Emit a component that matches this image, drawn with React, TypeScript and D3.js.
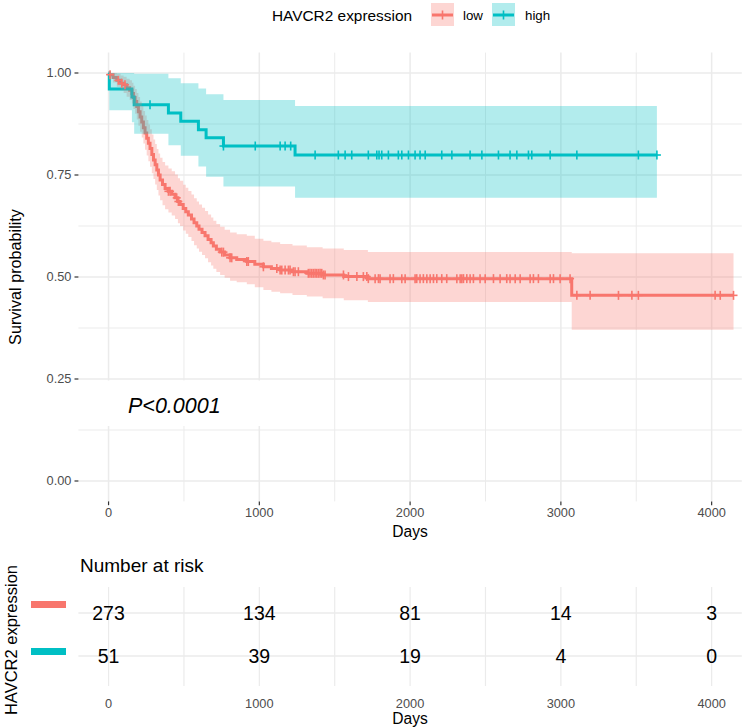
import React from "react";
import * as d3 from "d3";

// ---------- data ----------
const highTime = [0, 5, 155, 170, 397, 479, 596, 647, 762, 1237, 3637];
const highSurv = [1, 0.961, 0.941, 0.922, 0.902, 0.882, 0.861, 0.841, 0.821, 0.799, 0.799];
const highUpper = [1, 1, 1, 0.998, 0.987, 0.975, 0.962, 0.948, 0.934, 0.919, 0.919];
const highLower = [1, 0.909, 0.879, 0.851, 0.823, 0.797, 0.771, 0.746, 0.722, 0.694, 0.694];
const highCensor = [275, 762, 973, 1138, 1171, 1208, 1370, 1524, 1569, 1613, 1723, 1779, 1794, 1812, 1856, 1922, 1945, 1989, 2033, 2066, 2100, 2210, 2277, 2398, 2476, 2586, 2663, 2708, 2785, 2807, 2929, 3106, 3514, 3637];

const lowTime = [0, 5, 30, 55, 80, 100, 120, 140, 155, 165, 176, 187, 198, 209, 220, 231, 242, 253, 264, 275, 287, 298, 309, 320, 331, 342, 358, 375, 397, 419, 441, 460, 474, 495, 512, 529, 550, 567, 585, 600, 620, 640, 660, 680, 695, 715, 740, 770, 806, 850, 917, 970, 1027, 1080, 1138, 1220, 1315, 1420, 1560, 1720, 3072, 4145];
const lowSurv = [1, 0.996, 0.989, 0.982, 0.975, 0.971, 0.964, 0.958, 0.950, 0.940, 0.930, 0.918, 0.905, 0.892, 0.880, 0.866, 0.853, 0.840, 0.828, 0.815, 0.800, 0.787, 0.775, 0.762, 0.750, 0.738, 0.727, 0.717, 0.710, 0.703, 0.694, 0.685, 0.678, 0.668, 0.660, 0.652, 0.642, 0.633, 0.625, 0.617, 0.609, 0.601, 0.592, 0.584, 0.576, 0.568, 0.561, 0.554, 0.547, 0.543, 0.538, 0.531, 0.525, 0.521, 0.517, 0.513, 0.509, 0.505, 0.501, 0.496, 0.455, 0.455];
const lowUpper = [1, 1, 1, 0.998, 0.994, 0.991, 0.986, 0.982, 0.976, 0.969, 0.961, 0.951, 0.941, 0.930, 0.919, 0.907, 0.896, 0.885, 0.874, 0.862, 0.849, 0.837, 0.826, 0.814, 0.803, 0.792, 0.782, 0.773, 0.766, 0.759, 0.751, 0.742, 0.736, 0.726, 0.719, 0.711, 0.702, 0.693, 0.685, 0.678, 0.670, 0.662, 0.653, 0.646, 0.638, 0.630, 0.623, 0.616, 0.609, 0.605, 0.601, 0.594, 0.589, 0.585, 0.581, 0.577, 0.573, 0.570, 0.566, 0.561, 0.558, 0.558];
const lowLower = [1, 0.989, 0.977, 0.966, 0.957, 0.951, 0.942, 0.934, 0.925, 0.912, 0.900, 0.886, 0.871, 0.856, 0.842, 0.827, 0.812, 0.798, 0.784, 0.770, 0.754, 0.740, 0.727, 0.713, 0.700, 0.688, 0.676, 0.666, 0.658, 0.651, 0.642, 0.632, 0.625, 0.614, 0.606, 0.598, 0.588, 0.578, 0.570, 0.562, 0.554, 0.546, 0.536, 0.528, 0.520, 0.512, 0.505, 0.498, 0.491, 0.487, 0.482, 0.475, 0.468, 0.464, 0.460, 0.456, 0.452, 0.448, 0.443, 0.439, 0.371, 0.371];
const lowCensor = [10, 65, 88, 109, 397, 408, 452, 463, 751, 762, 806, 817, 917, 927, 1027, 1116, 1138, 1149, 1171, 1193, 1204, 1226, 1237, 1259, 1325, 1336, 1348, 1359, 1370, 1381, 1392, 1403, 1414, 1425, 1436, 1558, 1591, 1647, 1690, 1713, 1723, 1768, 1790, 1801, 1867, 1889, 1945, 1967, 2033, 2044, 2066, 2088, 2111, 2133, 2155, 2177, 2210, 2243, 2310, 2332, 2343, 2354, 2376, 2398, 2420, 2464, 2498, 2553, 2597, 2641, 2663, 2697, 2730, 2796, 2818, 2851, 2929, 2951, 2995, 3061, 3106, 3194, 3382, 3471, 3514, 4023, 4057, 4145];

const xTicks = [0, 1000, 2000, 3000, 4000];
const xMinor = [500, 1500, 2500, 3500];
const yTicks = [0, 0.25, 0.5, 0.75, 1];
const yTickLabels = ["0.00", "0.25", "0.50", "0.75", "1.00"];
const yMinor = [0.125, 0.375, 0.625, 0.875];

const groups = ["low", "high"];
const riskTimes = [0, 1000, 2000, 3000, 4000];
const riskLow = [273, 134, 81, 14, 3];
const riskHigh = [51, 39, 19, 4, 0];

const legendTitle = "HAVCR2 expression";
const pvalText = "P<0.0001";

// ---------- styles ----------
const RED = "#F8766D";
const TEAL = "#00BFC4";
const GRID = "#ebebeb";
const FONT = "'Liberation Sans', Arial, Helvetica, sans-serif";

type Pt = { t: number; s: number; u: number; l: number };

function zip(t: number[], s: number[], u: number[], l: number[]): Pt[] {
  return t.map((tt, i) => ({ t: tt, s: s[i], u: u[i], l: l[i] }));
}

export default function App() {
  const W = 742;
  const H = 727;
  const x = d3.scaleLinear().domain([-200, 4200]).range([78.4, 741.8]);
  const y = d3.scaleLinear().domain([0, 1]).range([481, 73]);
  const panelTop = y(1.05);
  const panelBottom = y(-0.05);
  const panelLeft = x(-200);
  const panelRight = x(4200);

  const high = zip(highTime, highSurv, highUpper, highLower);
  const low = zip(lowTime, lowSurv, lowUpper, lowLower);

  const line = d3
    .line<Pt>()
    .x((d) => x(d.t))
    .y((d) => y(d.s))
    .curve(d3.curveStepAfter);
  const area = d3
    .area<Pt>()
    .x((d) => x(d.t))
    .y0((d) => y(d.l))
    .y1((d) => y(d.u))
    .curve(d3.curveStepAfter);

  const bis = d3.bisector((d: Pt) => d.t).right;
  const survAt = (data: Pt[], t: number) => data[Math.max(0, bis(data, t) - 1)].s;

  const cross = (cx: number, cy: number, color: string, key: string) => (
    <g key={key} stroke={color} strokeWidth={1.6}>
      <line x1={cx - 4} x2={cx + 4} y1={cy} y2={cy} />
      <line x1={cx} x2={cx} y1={cy - 4.5} y2={cy + 4.5} />
    </g>
  );

  // risk table
  const rowY = d3.scaleOrdinal<string, number>().domain(groups).range([613, 656]);
  const riskTop = 587;
  const riskBottom = 686;

  return (
    <svg
      width={W}
      height={H}
      style={{ position: "absolute", left: 0, top: 0, background: "#fff" }}
      fontFamily={FONT}
    >
      <rect x={0} y={0} width={W} height={H} fill="#fff" />
      {/* legend */}
      <text x={272} y={20.5} fontSize={15.4} fill="#000">{legendTitle}</text>
      {[
        { lab: "low", col: RED, x0: 431, tx: 463 },
        { lab: "high", col: TEAL, x0: 492, tx: 525 },
      ].map((k) => (
        <g key={k.lab}>
          <rect x={k.x0} y={3} width={23} height={23} fill={k.col} fillOpacity={0.3} />
          <line x1={k.x0 + 1} x2={k.x0 + 22} y1={15} y2={15} stroke={k.col} strokeWidth={3} />
          {cross(k.x0 + 11.5, 15, k.col, "lk" + k.lab)}
          <text x={k.tx} y={20} fontSize={13.3} fill="#000">{k.lab}</text>
        </g>
      ))}

      {/* main panel grid */}
      <g>
        {yMinor.map((v) => (
          <line key={"ym" + v} x1={panelLeft} x2={panelRight} y1={y(v)} y2={y(v)} stroke={GRID} strokeWidth={1} />
        ))}
        {xMinor.map((v) => (
          <line key={"xm" + v} x1={x(v)} x2={x(v)} y1={panelTop} y2={panelBottom} stroke={GRID} strokeWidth={1} />
        ))}
        {yTicks.map((v) => (
          <line key={"yM" + v} x1={panelLeft} x2={panelRight} y1={y(v)} y2={y(v)} stroke={GRID} strokeWidth={1.5} />
        ))}
        {xTicks.map((v) => (
          <line key={"xM" + v} x1={x(v)} x2={x(v)} y1={panelTop} y2={panelBottom} stroke={GRID} strokeWidth={1.5} />
        ))}
      </g>

      {/* p-value label box */}
      <rect x={107} y={380.5} width={190} height={45.5} fill="#fff" />
      <text x={128} y={412.5} fontSize={21.5} fontStyle="italic" fill="#000">{pvalText}</text>

      {/* curves: lines, then ribbons, then censor marks */}
      <path d={line(low) || ""} fill="none" stroke={RED} strokeWidth={3} />
      <path d={line(high) || ""} fill="none" stroke={TEAL} strokeWidth={3} />
      <path d={area(low) || ""} fill={RED} fillOpacity={0.3} stroke="none" />
      <path d={area(high) || ""} fill={TEAL} fillOpacity={0.3} stroke="none" />
      {lowCensor.map((t, i) => cross(x(t), y(survAt(low, t)), RED, "lc" + i))}
      {highCensor.map((t, i) => cross(x(t), y(survAt(high, t)), TEAL, "hc" + i))}

      {/* axes */}
      {yTicks.map((v, i) => (
        <g key={"yt" + v}>
          <line x1={74.5} x2={panelLeft} y1={y(v)} y2={y(v)} stroke="#333" strokeWidth={1.2} />
          <text x={71.5} y={y(v)} dy="0.35em" fontSize={12.8} fill="#4d4d4d" textAnchor="end">
            {yTickLabels[i]}
          </text>
        </g>
      ))}
      {xTicks.map((v) => (
        <g key={"xt" + v}>
          <line x1={x(v)} x2={x(v)} y1={panelBottom} y2={panelBottom + 3.8} stroke="#333" strokeWidth={1.2} />
          <text x={x(v)} y={516.5} fontSize={12.8} fill="#4d4d4d" textAnchor="middle">{v}</text>
        </g>
      ))}
      <text x={(panelLeft + panelRight) / 2} y={536.5} fontSize={15.6} textAnchor="middle" fill="#000">Days</text>
      <text
        transform={`translate(21,${(panelTop + panelBottom) / 2}) rotate(-90)`}
        fontSize={16.2}
        textAnchor="middle"
        fill="#000"
      >
        Survival probability
      </text>

      {/* risk table */}
      <text x={80} y={571.5} fontSize={19} fill="#000">Number at risk</text>
      <g>
        {xTicks.concat(xMinor).map((v) => (
          <line key={"rg" + v} x1={x(v)} x2={x(v)} y1={riskTop} y2={riskBottom} stroke={GRID} strokeWidth={1.2} />
        ))}
        {groups.map((g) => (
          <line key={"rh" + g} x1={panelLeft} x2={panelRight} y1={rowY(g)} y2={rowY(g)} stroke={GRID} strokeWidth={1.5} />
        ))}
      </g>
      {riskTimes.map((t, i) => (
        <g key={"rk" + t}>
          <text x={x(t)} y={rowY("low")} dy="0.36em" fontSize={19.5} textAnchor="middle" fill="#000">{riskLow[i]}</text>
          <text x={x(t)} y={rowY("high")} dy="0.36em" fontSize={19.5} textAnchor="middle" fill="#000">{riskHigh[i]}</text>
        </g>
      ))}
      <rect x={31} y={601} width={35} height={7} fill={RED} />
      <rect x={31} y={648} width={35} height={7} fill={TEAL} />
      {xTicks.map((v) => (
        <text key={"rx" + v} x={x(v)} y={707.5} fontSize={12.8} fill="#4d4d4d" textAnchor="middle">{v}</text>
      ))}
      <text x={(panelLeft + panelRight) / 2} y={723.5} fontSize={15.6} textAnchor="middle" fill="#000">Days</text>
      <text
        transform={`translate(17,640) rotate(-90)`}
        fontSize={16.5}
        textAnchor="middle"
        fill="#000"
      >
        {legendTitle}
      </text>
    </svg>
  );
}
